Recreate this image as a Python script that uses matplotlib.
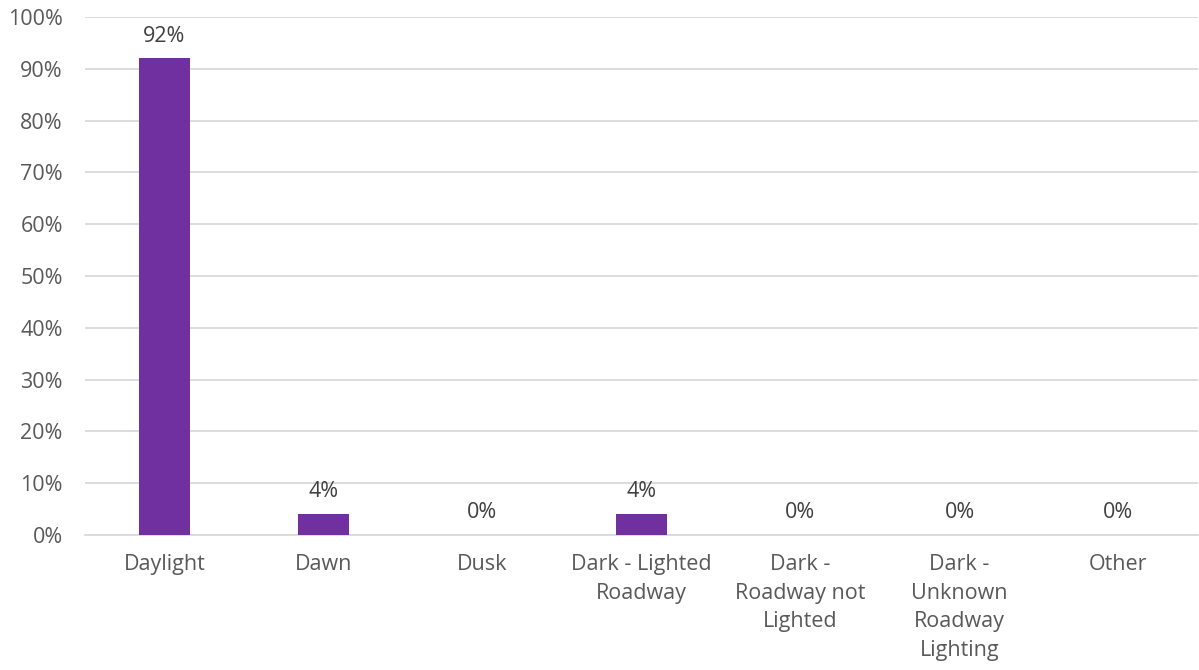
import matplotlib
matplotlib.use("Agg")
import matplotlib.pyplot as plt
from matplotlib.ticker import PercentFormatter

categories = ["Daylight", "Dawn", "Dusk", "Dark - Lighted\nRoadway",
              "Dark -\nRoadway not\nLighted", "Dark -\nUnknown\nRoadway\nLighting", "Other"]
values = [92, 4, 0, 4, 0, 0, 0]
yticks = [0, 10, 20, 30, 40, 50, 60, 70, 80, 90, 100]

plt.rcParams['font.family'] = ['Open Sans', 'DejaVu Sans']

W, H = 1199, 670
fig = plt.figure(figsize=(W / 100, H / 100), dpi=100)
ax = fig.add_axes([85 / W, 1 - 535 / H, (1198 - 85) / W, (535 - 17) / H])

x = list(range(len(categories)))
ax.bar(x, values, width=0.315, color="#7030A0", zorder=3)
for xi, v in zip(x, values):
    ax.annotate(f"{v}%", (xi, v), xytext=(0, 8.5), textcoords="offset points",
                ha="center", va="bottom", fontsize=15.5, color="#404040")

ax.set_xlim(-0.5, len(categories) - 0.5)
ax.set_ylim(0, 100)
ax.set_yticks(yticks)
ax.yaxis.set_major_formatter(PercentFormatter(decimals=0))
ax.set_xticks(x)
ax.set_xticklabels(categories, linespacing=1.47)
ax.tick_params(axis="both", length=0, labelsize=15.5, labelcolor="#595959")
ax.tick_params(axis="x", pad=14)
ax.tick_params(axis="y", pad=16)
ax.grid(axis="y", color="#D9D9D9", linewidth=1.3, zorder=0)
for s in ["top", "right", "left"]:
    ax.spines[s].set_visible(False)
ax.spines["bottom"].set_color("#D9D9D9")
ax.spines["bottom"].set_linewidth(1.3)

fig.savefig("out.png", dpi=100)
